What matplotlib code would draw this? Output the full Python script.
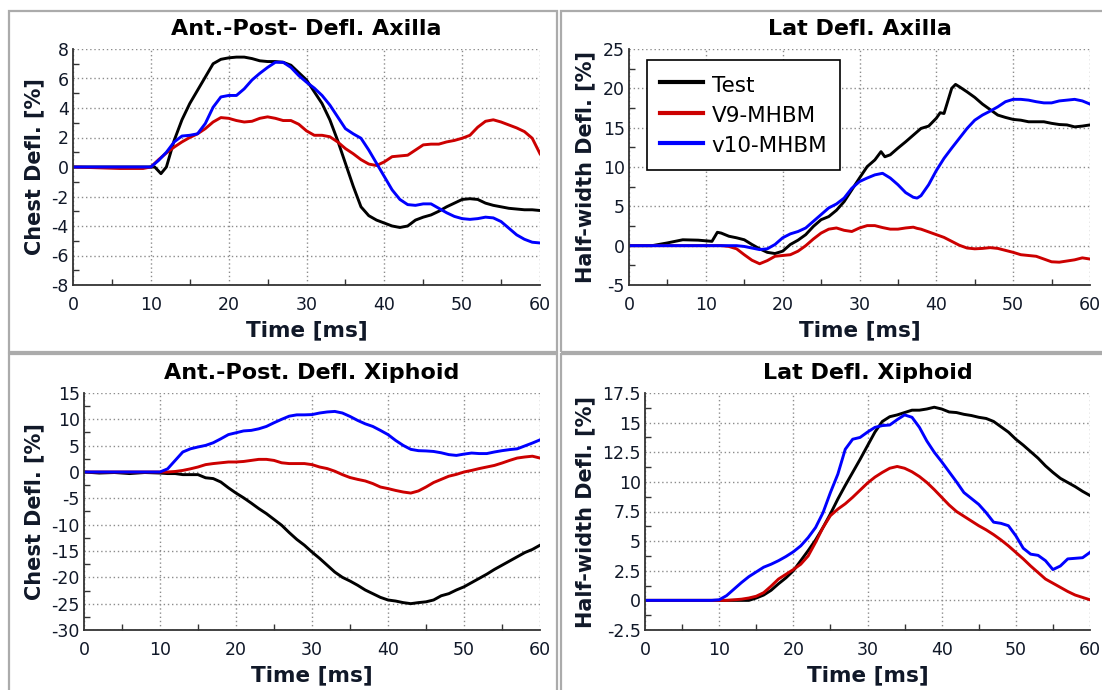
import numpy as np
import matplotlib.pyplot as plt
from matplotlib.patches import Rectangle
from matplotlib.ticker import MultipleLocator, FuncFormatter

plt.rcParams['font.family'] = 'DejaVu Sans'
plt.rcParams['axes.unicode_minus'] = False

# --- Ant.-Post. deflection, axilla ---
ap_ax_t_test = [0, 10, 10.5, 11.3, 12, 13, 14, 15, 16, 17, 18, 19, 20, 21, 22, 23, 24, 25, 26, 27, 28,
                29, 30, 31, 32, 33, 34, 35, 36, 37, 38, 39, 40, 41, 42, 43, 44, 45, 46, 47, 48, 49, 50,
                51, 52, 53, 54, 55, 56, 57, 58, 59, 60]
ap_ax_test = [0, 0, 0, -0.45, 0, 1.8, 3.2, 4.3, 5.2, 6.1, 7.0, 7.3, 7.4, 7.45, 7.45, 7.35, 7.2, 7.15,
              7.15, 7.1, 6.9, 6.4, 5.9, 5.1, 4.3, 3.2, 1.8, 0.25, -1.3, -2.7, -3.3, -3.6, -3.8, -4.0,
              -4.1, -4.0, -3.6, -3.4, -3.25, -3.0, -2.7, -2.45, -2.2, -2.15, -2.2, -2.45, -2.6, -2.7,
              -2.8, -2.85, -2.9, -2.9, -2.95]
ap_ax_t_sim = [0, 3, 6, 9] + list(range(10, 61))
ap_ax_v9 = [0, -0.05, -0.1, -0.1, 0, 0.5, 0.95, 1.35, 1.7, 2.0, 2.25, 2.6, 3.05, 3.35, 3.3, 3.15, 3.05,
            3.1, 3.3, 3.4, 3.3, 3.15, 3.15, 2.9, 2.45, 2.15, 2.15, 2.05, 1.7, 1.25, 0.9, 0.5, 0.2, 0.1,
            0.35, 0.7, 0.75, 0.8, 1.15, 1.5, 1.55, 1.55, 1.7, 1.8, 1.95, 2.15, 2.7, 3.1, 3.2, 3.05,
            2.85, 2.65, 2.4, 1.95, 0.9]
ap_ax_v10 = [0, 0, 0, 0, 0, 0.45, 1.0, 1.7, 2.1, 2.15, 2.25, 2.95, 4.05, 4.75, 4.85, 4.85, 5.3, 5.9,
             6.35, 6.75, 7.1, 7.1, 6.75, 6.2, 5.75, 5.35, 4.85, 4.2, 3.4, 2.6, 2.25, 1.95, 1.15, 0.25,
             -0.65, -1.55, -2.2, -2.55, -2.6, -2.5, -2.5, -2.8, -3.1, -3.35, -3.5, -3.55, -3.5, -3.4,
             -3.45, -3.7, -4.15, -4.6, -4.9, -5.1, -5.15]

# --- Lateral deflection, axilla ---
lat_ax_t_test = [0, 3, 5, 7, 9, 10.8, 11.5, 12, 13, 14, 15, 16, 17, 18, 19, 20, 21, 22, 23, 24, 25,
                 26, 27, 28, 29, 30, 31, 32, 32.8, 33.3, 34, 35, 36, 37, 38, 39, 40, 40.5, 41, 42,
                 42.5, 43, 44, 45, 46, 47, 48, 49, 50, 51, 52, 53, 54, 55, 56, 57, 58, 59, 60]
lat_ax_test = [0, 0, 0.35, 0.75, 0.7, 0.55, 1.7, 1.6, 1.2, 1.0, 0.75, 0.15, -0.4, -0.85, -1.0, -0.7,
               0.15, 0.7, 1.4, 2.45, 3.3, 3.7, 4.5, 5.6, 7.1, 8.6, 10.05, 10.9, 11.95, 11.3, 11.55,
               12.4, 13.2, 14.05, 14.9, 15.2, 16.2, 16.9, 16.8, 20.0, 20.5, 20.2, 19.55, 18.85, 18.0,
               17.3, 16.6, 16.3, 16.05, 15.95, 15.75, 15.75, 15.75, 15.55, 15.4, 15.35, 15.1, 15.2,
               15.35]
lat_ax_t_sim = [0] + list(range(12, 61)) + [37.5]
lat_ax_v9 = [0, 0, -0.1, -0.4, -1.15, -1.85, -2.3, -1.9, -1.35, -1.25, -1.15, -0.7, 0, 0.85, 1.6, 2.1,
             2.25, 1.95, 1.8, 2.25, 2.55, 2.55, 2.3, 2.1, 2.1, 2.25, 2.35, 2.1, 1.75, 1.4, 1.05, 0.55,
             0.05, -0.3, -0.4, -0.35, -0.25, -0.35, -0.6, -0.85, -1.15, -1.25, -1.35, -1.7, -2.05,
             -2.1, -1.95, -1.8, -1.55, -1.7, 2.2]
lat_ax_v10 = [0, 0, 0, 0, -0.1, -0.3, -0.5, -0.4, 0.15, 1.0, 1.5, 1.8, 2.25, 3.1, 3.95, 4.8, 5.3, 6.05,
              7.3, 8.15, 8.6, 9.0, 9.2, 8.6, 7.75, 6.75, 6.15, 6.35, 7.75, 9.55, 11.1, 12.4, 13.65,
              14.9, 15.95, 16.6, 17.1, 17.65, 18.3, 18.6, 18.6, 18.5, 18.3, 18.15, 18.15, 18.4, 18.5,
              18.6, 18.4, 18.0, 6.05]

# --- Ant.-Post. deflection, xiphoid ---
ap_xi_t = [0, 2, 4, 6, 8] + list(range(10, 61))
ap_xi_test = [0, -0.2, -0.1, -0.3, -0.1, -0.2, -0.3, -0.3, -0.5, -0.5, -0.5, -1.1, -1.25, -1.9, -3.0,
              -4.0, -4.9, -5.9, -6.95, -7.9, -9.0, -10.1, -11.5, -12.8, -13.9, -15.2, -16.4, -17.7,
              -19.0, -20.0, -20.7, -21.5, -22.4, -23.1, -23.8, -24.3, -24.5, -24.8, -25.0, -24.8,
              -24.65, -24.3, -23.5, -23.1, -22.4, -21.8, -21.0, -20.2, -19.4, -18.5, -17.7, -16.9,
              -16.1, -15.3, -14.7, -13.9]
ap_xi_v9 = [0, 0, 0, 0, 0, 0, 0, 0.1, 0.3, 0.6, 0.95, 1.4, 1.6, 1.75, 1.9, 1.9, 2.0, 2.2, 2.4, 2.4, 2.2,
            1.75, 1.6, 1.6, 1.6, 1.4, 0.95, 0.65, 0.15, -0.5, -1.05, -1.4, -1.7, -2.2, -2.85, -3.15,
            -3.5, -3.8, -4.0, -3.6, -2.85, -2.0, -1.4, -0.8, -0.45, 0, 0.3, 0.65, 0.95, 1.25, 1.7,
            2.2, 2.65, 2.85, 3.0, 2.65]
ap_xi_v10 = [0, 0, 0, 0, 0, 0, 0.6, 2.2, 3.8, 4.4, 4.75, 5.05, 5.55, 6.3, 7.1, 7.45, 7.8, 7.9, 8.2,
             8.65, 9.35, 10.0, 10.6, 10.85, 10.85, 10.9, 11.2, 11.4, 11.5, 11.2, 10.55, 9.8, 9.15,
             8.65, 7.9, 7.1, 6.0, 5.05, 4.3, 4.05, 4.0, 3.9, 3.65, 3.3, 3.15, 3.4, 3.6, 3.5, 3.5, 3.8,
             4.05, 4.25, 4.4, 4.95, 5.5, 6.1]

# --- Lateral deflection, xiphoid ---
lat_xi_t = [0] + list(range(9, 61))
lat_xi_test = [0, 0, 0, 0, 0, 0, 0, 0.2, 0.45, 0.85, 1.4, 1.9, 2.5, 3.35, 4.2, 5.1, 6.15, 7.3, 8.55,
               9.7, 10.8, 11.9, 13.05, 14.2, 15.1, 15.5, 15.65, 15.85, 16.05, 16.05, 16.15, 16.3,
               16.15, 15.9, 15.85, 15.7, 15.6, 15.45, 15.35, 15.1, 14.65, 14.2, 13.6, 13.1, 12.55,
               12.0, 11.35, 10.8, 10.3, 9.95, 9.6, 9.2, 8.85, 8.4]
lat_xi_v9 = [0, 0, 0, 0, 0.05, 0.1, 0.2, 0.35, 0.65, 1.2, 1.8, 2.2, 2.6, 3.05, 3.75, 4.9, 6.15, 7.15,
             7.7, 8.15, 8.7, 9.3, 9.9, 10.4, 10.8, 11.15, 11.3, 11.15, 10.85, 10.45, 9.95, 9.35, 8.7,
             8.05, 7.5, 7.1, 6.7, 6.3, 5.95, 5.55, 5.1, 4.6, 4.05, 3.5, 2.9, 2.35, 1.8, 1.45, 1.1,
             0.75, 0.45, 0.25, 0.05]
lat_xi_v10 = [0, 0, 0.05, 0.4, 0.95, 1.5, 2.0, 2.4, 2.8, 3.05, 3.35, 3.7, 4.1, 4.6, 5.3, 6.15, 7.4,
              9.1, 10.65, 12.75, 13.6, 13.75, 14.2, 14.6, 14.75, 14.8, 15.25, 15.65, 15.45, 14.6,
              13.45, 12.5, 11.7, 10.85, 10.0, 9.1, 8.6, 8.1, 7.4, 6.6, 6.5, 6.3, 5.45, 4.4, 3.9, 3.8,
              3.35, 2.6, 2.9, 3.5, 3.55, 3.6, 4.05]

series_labels = ['Test', 'V9-MHBM', 'v10-MHBM']
series_colors = ['#000000', '#cc0000', '#0000ff']

text_color = '#101828'
grid_color = '#8c8c8c'
box_color = '#ababab'

W, H = 1102, 690
fig = plt.figure(figsize=(W / 100, H / 100), dpi=100)
fig.patch.set_facecolor('white')


def add_axes_px(x0, y0, x1, y1):
    return fig.add_axes([x0 / W, 1 - y1 / H, (x1 - x0) / W, (y1 - y0) / H])


def add_box_px(x0, y0, x1, y1):
    fig.patches.append(Rectangle((x0 / W, 1 - y1 / H), (x1 - x0) / W, (y1 - y0) / H,
                                 transform=fig.transFigure, fill=False,
                                 edgecolor=box_color, linewidth=1.6))


def sort_xy(t, y):
    order = np.argsort(t, kind='stable')
    return np.asarray(t, float)[order], np.asarray(y, float)[order]


def panel(ax, title, ylabel, ylim, ymajor, yminor, curves, ylab_px, h_px):
    for (t, y), color, label in zip(curves, series_colors, series_labels):
        t, y = sort_xy(t, y)
        ax.plot(t, y, color=color, lw=2.1, label=label, solid_joinstyle='round')
    ax.set_xlim(0, 60)
    ax.set_ylim(*ylim)
    ax.xaxis.set_major_locator(MultipleLocator(10))
    ax.xaxis.set_minor_locator(MultipleLocator(5))
    ax.yaxis.set_major_locator(MultipleLocator(ymajor))
    ax.yaxis.set_minor_locator(MultipleLocator(yminor))
    ax.yaxis.set_major_formatter(FuncFormatter(lambda v, p: f'{v:g}'))
    ax.tick_params(which='major', direction='in', length=0, labelsize=12.5,
                   labelcolor=text_color)
    ax.tick_params(which='minor', direction='in', length=4, width=1, color='#333333')
    ax.tick_params(axis='x', which='major', pad=8)
    ax.tick_params(axis='y', which='major', pad=3)
    ax.grid(which='major', linestyle=(0, (1, 2)), color=grid_color, linewidth=1)
    for s in ['top', 'right']:
        ax.spines[s].set_visible(False)
    for s in ['left', 'bottom']:
        ax.spines[s].set_linewidth(1.3)
        ax.spines[s].set_color('#333333')
    ax.set_title(title, fontsize=16, fontweight='bold', pad=10)
    ax.set_xlabel('Time [ms]', fontsize=15.5, fontweight='bold', color=text_color)
    ax.xaxis.set_label_coords(0.5, -45 / h_px)
    ax.xaxis.label.set_verticalalignment('center')
    ax.set_ylabel(ylabel, fontsize=15, fontweight='bold', color=text_color)
    ax.yaxis.set_label_coords(ylab_px, 0.5)
    ax.yaxis.label.set_verticalalignment('center')


# panel frames
add_box_px(9, 11, 557, 352)
add_box_px(561, 11, 1104, 352)
add_box_px(9, 354, 557, 692)
add_box_px(561, 354, 1104, 692)

ax1 = add_axes_px(73, 49, 540, 285)
panel(ax1, 'Ant.-Post- Defl. Axilla', 'Chest Defl. [%]', (-8, 8), 2, 1,
      [(ap_ax_t_test, ap_ax_test), (ap_ax_t_sim, ap_ax_v9), (ap_ax_t_sim, ap_ax_v10)],
      (34 - 73) / 467, 236)

ax2 = add_axes_px(629, 49, 1090, 285)
panel(ax2, 'Lat Defl. Axilla', 'Half-width Defl. [%]', (-5, 25), 5, 2.5,
      [(lat_ax_t_test, lat_ax_test), (lat_ax_t_sim, lat_ax_v9), (lat_ax_t_sim, lat_ax_v10)],
      (585 - 629) / 461, 236)
leg = ax2.legend(loc='upper left', bbox_to_anchor=(0.039, 0.953), borderaxespad=0,
                 fancybox=False, edgecolor='black', framealpha=1, fontsize=15.5,
                 handlelength=2.0, handleheight=1.3, handletextpad=0.4, labelspacing=0.31,
                 borderpad=0.6)
leg.get_frame().set_linewidth(1.2)
for line in leg.get_lines():
    line.set_linewidth(3)

ax3 = add_axes_px(84, 393, 540, 630)
panel(ax3, 'Ant.-Post. Defl. Xiphoid', 'Chest Defl. [%]', (-30, 15), 5, 2.5,
      [(ap_xi_t, ap_xi_test), (ap_xi_t, ap_xi_v9), (ap_xi_t, ap_xi_v10)],
      (34 - 84) / 456, 237)

ax4 = add_axes_px(645, 393, 1090, 630)
panel(ax4, 'Lat Defl. Xiphoid', 'Half-width Defl. [%]', (-2.5, 17.5), 2.5, 1.25,
      [(lat_xi_t, lat_xi_test), (lat_xi_t, lat_xi_v9), (lat_xi_t, lat_xi_v10)],
      (585 - 645) / 445, 237)

fig.savefig('out.png', dpi=100)
